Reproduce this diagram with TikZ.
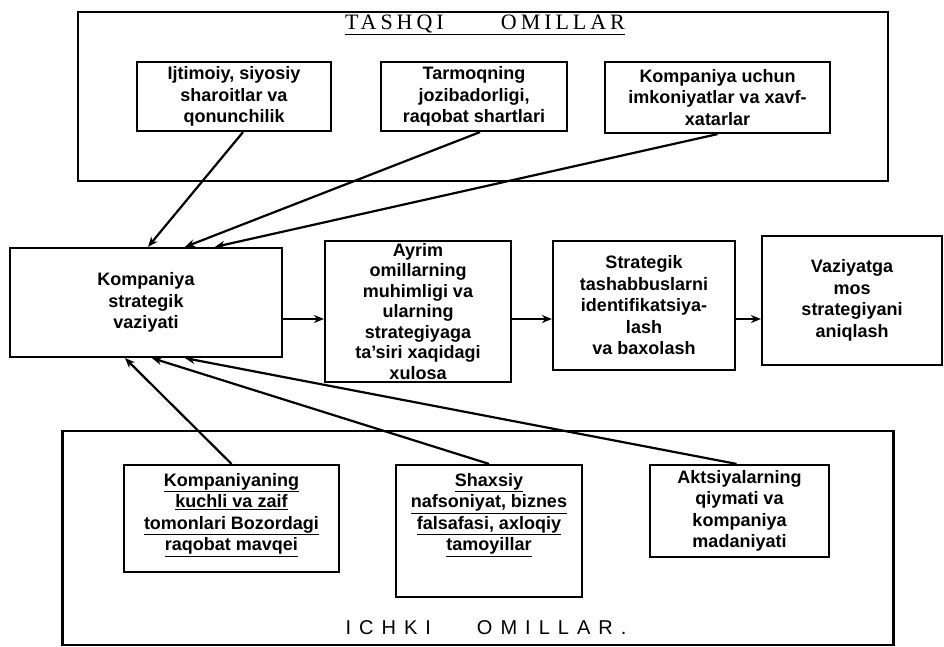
\documentclass[tikz,border=0pt]{standalone}
\usepackage{fontspec}
\setmainfont{Liberation Sans}
\newfontfamily\headserif[LetterSpace=18]{Liberation Serif}
\newfontfamily\headsans[LetterSpace=40]{Liberation Sans}
\usetikzlibrary{arrows.meta}

\begin{document}
\begin{tikzpicture}[x=1pt,y=-1pt,
  box/.style={draw,line width=2.2pt,inner sep=0pt,align=center,
    font=\bfseries\fontsize{18}{21.5}\selectfont},
  txt/.style={inner sep=0pt,align=center,font=\bfseries\fontsize{18}{21.5}\selectfont},
  conn/.style={line width=2.2pt,-{Stealth[length=10pt,width=8pt]}}]
\useasboundingbox (0,0) rectangle (944,646);

% external factors
\node[box,minimum width=810pt,minimum height=169pt] (outer) at (483,96.5) {};
\node[inner sep=0pt,font=\headserif\fontsize{22}{24}\selectfont] (outertitle) at (485,25)
  {\underline{TASHQI\hspace{2.6em}OMILLAR}};
\node[box,minimum width=194pt,minimum height=69pt] (t1) at (234,96.5)
  {Ijtimoiy, siyosiy\\ sharoitlar va\\ qonunchilik};
\node[box,minimum width=186pt,minimum height=69pt] (t2) at (474,96.5)
  {Tarmoqning\\ jozibadorligi,\\ raqobat shartlari};
\node[box,minimum width=225pt,minimum height=71pt] (t3) at (717.5,97.5)
  {Kompaniya uchun\\ imkoniyatlar va xavf-\\ xatarlar};

% main chain
\node[box,minimum width=272pt,minimum height=109pt] (k) at (146,302.5)
  {Kompaniya\\ strategik\\ vaziyati};
\node[box,minimum width=186pt,minimum height=141pt,
  font=\bfseries\fontsize{18}{20.5}\selectfont] (a) at (418,311.5)
  {Ayrim\\ omillarning\\ muhimligi va\\ ularning\\ strategiyaga\\ ta’siri xaqidagi\\ xulosa};
\node[box,minimum width=182pt,minimum height=129pt] (s) at (644,305.5)
  {Strategik\\ tashabbuslarni\\ identifikatsiya-\\ lash\\ va baxolash};
\node[box,minimum width=180pt,minimum height=129pt] (v) at (852,300.5)
  {Vaziyatga\\ mos\\ strategiyani\\ aniqlash};

\coordinate (row) at (0,319);
\draw[conn] (k.east |- row) -- (a.west |- row);
\draw[conn] (a.east |- row) -- (s.west |- row);
\draw[conn] (s.east |- row) -- (v.west |- row);

% internal factors
\node[box,minimum width=831pt,minimum height=214pt] (inner) at (478,538) {};
\node[box,minimum width=215pt,minimum height=107pt] (b1) at (231.5,518.5) {};
\node[txt,anchor=north] (b1t) at (231.5,473)
  {\underline{Kompaniyaning}\\ \underline{kuchli va zaif}\\
   \underline{tomonlari Bozordagi}\\ \underline{raqobat mavqei}};
\node[box,minimum width=186pt,minimum height=132pt] (b2) at (489,531) {};
\node[txt,anchor=north] (b2t) at (489,473)
  {\underline{Shaxsiy}\\ \underline{nafsoniyat, biznes}\\
   \underline{falsafasi, axloqiy}\\ \underline{tamoyillar}};
\node[box,minimum width=179pt,minimum height=92pt] (b3) at (739.5,511)
  {Aktsiyalarning\\ qiymati va\\ kompaniya\\ madaniyati};
\node[inner sep=0pt,font=\headsans\fontsize{20}{22}\selectfont]
  (innertitle) at (486,628) {ICHKI\hspace{2.3em}OMILLAR.};

% influences on the company's situation
\draw[conn] ([xshift=9pt]t1.south) -- ([xshift=2pt]k.north);
\draw[conn] ([xshift=6pt]t2.south) -- ([xshift=39pt]k.north);
\draw[conn] (t3.south) -- ([xshift=69pt]k.north);
\draw[conn] (b1.north) -- ([xshift=-21pt]k.south);
\draw[conn] (b2.north) -- ([xshift=6pt]k.south);
\draw[conn] ([xshift=-3pt]b3.north) -- ([xshift=39pt]k.south);
\end{tikzpicture}
\end{document}
